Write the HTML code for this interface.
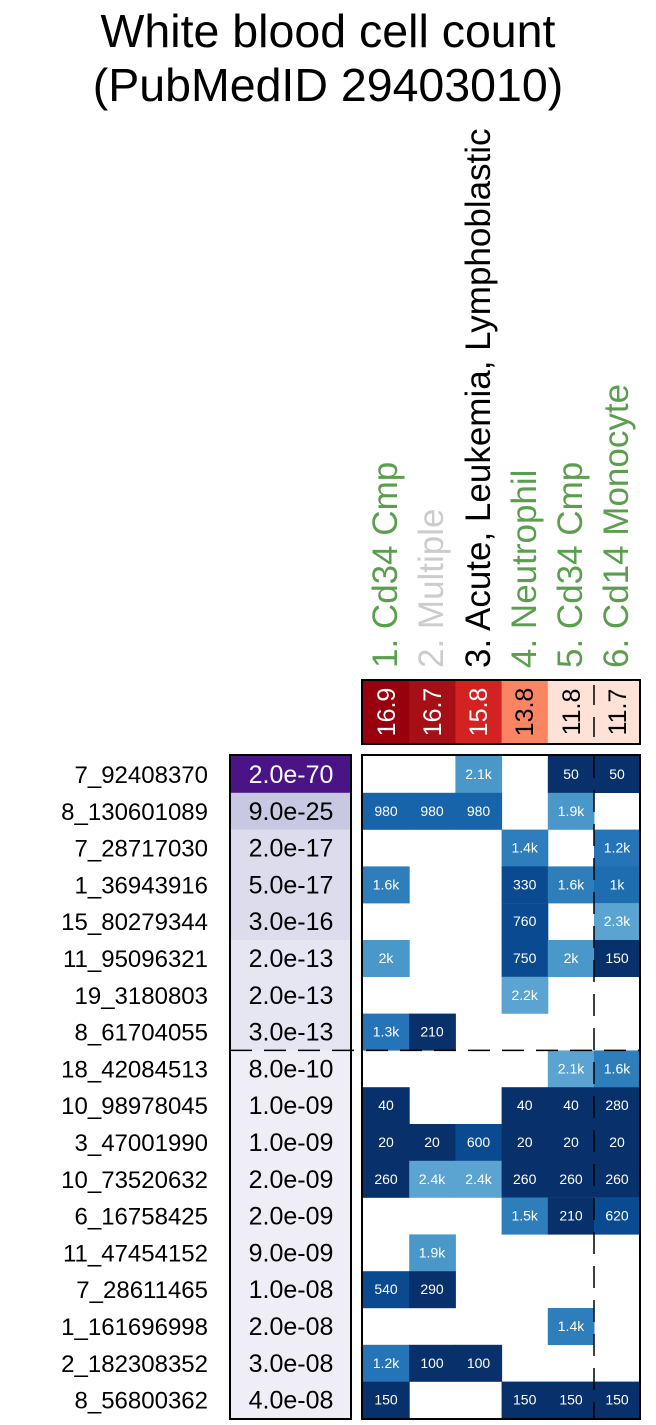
<!DOCTYPE html>
<html><head><meta charset="utf-8"><style>
html,body{margin:0;padding:0;background:#fff;}
svg{display:block;font-family:"Liberation Sans",Arial,sans-serif;}
.rl{font-size:24px;text-anchor:end;fill:#000}
.pv{font-size:25px;text-anchor:middle;fill:#000}
.cv{font-size:14px;text-anchor:middle;fill:#fff}
</style></head><body>
<svg width="656" height="1425" viewBox="0 0 656 1425" xmlns="http://www.w3.org/2000/svg">
<text x="328" y="47" font-size="46.5" text-anchor="middle">White blood cell count</text>
<text x="328" y="101" font-size="46.5" text-anchor="middle">(PubMedID 29403010)</text>

<g font-size="35">
<text transform="translate(397,668) rotate(-90)" fill="#5a9e4e">1. Cd34 Cmp</text>
<text transform="translate(443,668) rotate(-90)" fill="#cccccc">2. Multiple</text>
<text transform="translate(490,668) rotate(-90)" fill="#000">3. Acute, Leukemia, Lymphoblastic</text>
<text transform="translate(536,668) rotate(-90)" fill="#5a9e4e">4. Neutrophil</text>
<text transform="translate(582,668) rotate(-90)" fill="#5a9e4e">5. Cd34 Cmp</text>
<text transform="translate(628,668) rotate(-90)" fill="#5a9e4e">6. Cd14 Monocyte</text>
</g>

<rect x="363" y="681" width="46.7" height="63" fill="#99000d"/>
<rect x="409.2" y="681" width="46.7" height="63" fill="#a50f15"/>
<rect x="455.4" y="681" width="46.7" height="63" fill="#d42222"/>
<rect x="501.6" y="681" width="46.7" height="63" fill="#fb8462"/>
<rect x="547.8" y="681" width="46.7" height="63" fill="#fee2d7"/>
<rect x="594" y="681" width="46.2" height="63" fill="#fee2d7"/>
<g font-size="25" text-anchor="middle">
<text transform="translate(395,712) rotate(-90)" fill="#fff">16.9</text>
<text transform="translate(441,712) rotate(-90)" fill="#fff">16.7</text>
<text transform="translate(487,712) rotate(-90)" fill="#fff">15.8</text>
<text transform="translate(533,712) rotate(-90)" fill="#000">13.8</text>
<text transform="translate(580,712) rotate(-90)" fill="#000">11.8</text>
<text transform="translate(626,712) rotate(-90)" fill="#000">11.7</text>
</g>
<line x1="594" y1="681" x2="594" y2="744" stroke="#000" stroke-width="1.5" stroke-dasharray="20,12" stroke-dashoffset="-4"/>
<rect x="362" y="680" width="278" height="64" fill="none" stroke="#000" stroke-width="2"/>

<g>
<rect x="230" y="756" width="121" height="37" fill="#4a1486"/>
<rect x="230" y="792.8" width="121" height="37" fill="#c8c8e2"/>
<rect x="230" y="829.6" width="121" height="110.4" fill="#dddcec"/>
<rect x="230" y="940" width="121" height="110.4" fill="#e6e5f2"/>
<rect x="230" y="1050.4" width="121" height="368" fill="#efedf6"/>
</g>

<g transform="translate(0,756)"><text class="rl" x="208" y="27">7_92408370</text><text class="pv" x="291" y="27" style="fill:#fff">2.0e-70</text>
<rect x="455.4" y="0" width="46.7" height="37" fill="#4a98c9"/><text class="cv" x="478.5" y="23">2.1k</text>
<rect x="547.8" y="0" width="46.7" height="37" fill="#08306b"/><text class="cv" x="571" y="23">50</text>
<rect x="594" y="0" width="46.2" height="37" fill="#08306b"/><text class="cv" x="617" y="23">50</text></g>

<g transform="translate(0,792.8)"><text class="rl" x="208" y="27">8_130601089</text><text class="pv" x="291" y="27">9.0e-25</text>
<rect x="363" y="0" width="46.7" height="37" fill="#1764ab"/><text class="cv" x="386" y="23">980</text>
<rect x="409.2" y="0" width="46.7" height="37" fill="#1764ab"/><text class="cv" x="432" y="23">980</text>
<rect x="455.4" y="0" width="46.7" height="37" fill="#1764ab"/><text class="cv" x="478.5" y="23">980</text>
<rect x="547.8" y="0" width="46.7" height="37" fill="#4a98c9"/><text class="cv" x="571" y="23">1.9k</text></g>

<g transform="translate(0,829.6)"><text class="rl" x="208" y="27">7_28717030</text><text class="pv" x="291" y="27">2.0e-17</text>
<rect x="501.6" y="0" width="46.7" height="37" fill="#2e7ebc"/><text class="cv" x="524.7" y="23">1.4k</text>
<rect x="594" y="0" width="46.2" height="37" fill="#2474b7"/><text class="cv" x="617" y="23">1.2k</text></g>

<g transform="translate(0,866.4)"><text class="rl" x="208" y="27">1_36943916</text><text class="pv" x="291" y="27">5.0e-17</text>
<rect x="363" y="0" width="46.7" height="37" fill="#2e7ebc"/><text class="cv" x="386" y="23">1.6k</text>
<rect x="501.6" y="0" width="46.7" height="37" fill="#0a4a90"/><text class="cv" x="524.7" y="23">330</text>
<rect x="547.8" y="0" width="46.7" height="37" fill="#2e7ebc"/><text class="cv" x="571" y="23">1.6k</text>
<rect x="594" y="0" width="46.2" height="37" fill="#1f6db1"/><text class="cv" x="617" y="23">1k</text></g>

<g transform="translate(0,903.2)"><text class="rl" x="208" y="27">15_80279344</text><text class="pv" x="291" y="27">3.0e-16</text>
<rect x="501.6" y="0" width="46.7" height="37" fill="#0a4a90"/><text class="cv" x="524.7" y="23">760</text>
<rect x="594" y="0" width="46.2" height="37" fill="#5ba3d0"/><text class="cv" x="617" y="23">2.3k</text></g>

<g transform="translate(0,940)"><text class="rl" x="208" y="27">11_95096321</text><text class="pv" x="291" y="27">2.0e-13</text>
<rect x="363" y="0" width="46.7" height="37" fill="#4a98c9"/><text class="cv" x="386" y="23">2k</text>
<rect x="501.6" y="0" width="46.7" height="37" fill="#0a4a90"/><text class="cv" x="524.7" y="23">750</text>
<rect x="547.8" y="0" width="46.7" height="37" fill="#4a98c9"/><text class="cv" x="571" y="23">2k</text>
<rect x="594" y="0" width="46.2" height="37" fill="#08306b"/><text class="cv" x="617" y="23">150</text></g>

<g transform="translate(0,976.8)"><text class="rl" x="208" y="27">19_3180803</text><text class="pv" x="291" y="27">2.0e-13</text>
<rect x="501.6" y="0" width="46.7" height="37" fill="#5ba3d0"/><text class="cv" x="524.7" y="23">2.2k</text></g>

<g transform="translate(0,1013.6)"><text class="rl" x="208" y="27">8_61704055</text><text class="pv" x="291" y="27">3.0e-13</text>
<rect x="363" y="0" width="46.7" height="37" fill="#2474b7"/><text class="cv" x="386" y="23">1.3k</text>
<rect x="409.2" y="0" width="46.7" height="37" fill="#08306b"/><text class="cv" x="432" y="23">210</text></g>

<g transform="translate(0,1050.4)"><text class="rl" x="208" y="27">18_42084513</text><text class="pv" x="291" y="27">8.0e-10</text>
<rect x="547.8" y="0" width="46.7" height="37" fill="#5ba3d0"/><text class="cv" x="571" y="23">2.1k</text>
<rect x="594" y="0" width="46.2" height="37" fill="#2e7ebc"/><text class="cv" x="617" y="23">1.6k</text></g>

<g transform="translate(0,1087.2)"><text class="rl" x="208" y="27">10_98978045</text><text class="pv" x="291" y="27">1.0e-09</text>
<rect x="363" y="0" width="46.7" height="37" fill="#08306b"/><text class="cv" x="386" y="23">40</text>
<rect x="501.6" y="0" width="46.7" height="37" fill="#08306b"/><text class="cv" x="524.7" y="23">40</text>
<rect x="547.8" y="0" width="46.7" height="37" fill="#08306b"/><text class="cv" x="571" y="23">40</text>
<rect x="594" y="0" width="46.2" height="37" fill="#08306b"/><text class="cv" x="617" y="23">280</text></g>

<g transform="translate(0,1124)"><text class="rl" x="208" y="27">3_47001990</text><text class="pv" x="291" y="27">1.0e-09</text>
<rect x="363" y="0" width="46.7" height="37" fill="#08306b"/><text class="cv" x="386" y="23">20</text>
<rect x="409.2" y="0" width="46.7" height="37" fill="#08306b"/><text class="cv" x="432" y="23">20</text>
<rect x="455.4" y="0" width="46.7" height="37" fill="#0a4a90"/><text class="cv" x="478.5" y="23">600</text>
<rect x="501.6" y="0" width="46.7" height="37" fill="#08306b"/><text class="cv" x="524.7" y="23">20</text>
<rect x="547.8" y="0" width="46.7" height="37" fill="#08306b"/><text class="cv" x="571" y="23">20</text>
<rect x="594" y="0" width="46.2" height="37" fill="#08306b"/><text class="cv" x="617" y="23">20</text></g>

<g transform="translate(0,1160.8)"><text class="rl" x="208" y="27">10_73520632</text><text class="pv" x="291" y="27">2.0e-09</text>
<rect x="363" y="0" width="46.7" height="37" fill="#08306b"/><text class="cv" x="386" y="23">260</text>
<rect x="409.2" y="0" width="46.7" height="37" fill="#5ba3d0"/><text class="cv" x="432" y="23">2.4k</text>
<rect x="455.4" y="0" width="46.7" height="37" fill="#5ba3d0"/><text class="cv" x="478.5" y="23">2.4k</text>
<rect x="501.6" y="0" width="46.7" height="37" fill="#08306b"/><text class="cv" x="524.7" y="23">260</text>
<rect x="547.8" y="0" width="46.7" height="37" fill="#08306b"/><text class="cv" x="571" y="23">260</text>
<rect x="594" y="0" width="46.2" height="37" fill="#08306b"/><text class="cv" x="617" y="23">260</text></g>

<g transform="translate(0,1197.6)"><text class="rl" x="208" y="27">6_16758425</text><text class="pv" x="291" y="27">2.0e-09</text>
<rect x="501.6" y="0" width="46.7" height="37" fill="#2e7ebc"/><text class="cv" x="524.7" y="23">1.5k</text>
<rect x="547.8" y="0" width="46.7" height="37" fill="#08306b"/><text class="cv" x="571" y="23">210</text>
<rect x="594" y="0" width="46.2" height="37" fill="#0a4a90"/><text class="cv" x="617" y="23">620</text></g>

<g transform="translate(0,1234.4)"><text class="rl" x="208" y="27">11_47454152</text><text class="pv" x="291" y="27">9.0e-09</text>
<rect x="409.2" y="0" width="46.7" height="37" fill="#4a98c9"/><text class="cv" x="432" y="23">1.9k</text></g>

<g transform="translate(0,1271.2)"><text class="rl" x="208" y="27">7_28611465</text><text class="pv" x="291" y="27">1.0e-08</text>
<rect x="363" y="0" width="46.7" height="37" fill="#0a4a90"/><text class="cv" x="386" y="23">540</text>
<rect x="409.2" y="0" width="46.7" height="37" fill="#08306b"/><text class="cv" x="432" y="23">290</text></g>

<g transform="translate(0,1308)"><text class="rl" x="208" y="27">1_161696998</text><text class="pv" x="291" y="27">2.0e-08</text>
<rect x="547.8" y="0" width="46.7" height="37" fill="#2e7ebc"/><text class="cv" x="571" y="23">1.4k</text></g>

<g transform="translate(0,1344.8)"><text class="rl" x="208" y="27">2_182308352</text><text class="pv" x="291" y="27">3.0e-08</text>
<rect x="363" y="0" width="46.7" height="37" fill="#2474b7"/><text class="cv" x="386" y="23">1.2k</text>
<rect x="409.2" y="0" width="46.7" height="37" fill="#08306b"/><text class="cv" x="432" y="23">100</text>
<rect x="455.4" y="0" width="46.7" height="37" fill="#08306b"/><text class="cv" x="478.5" y="23">100</text></g>

<g transform="translate(0,1381.6)"><text class="rl" x="208" y="27">8_56800362</text><text class="pv" x="291" y="27">4.0e-08</text>
<rect x="363" y="0" width="46.7" height="37" fill="#08306b"/><text class="cv" x="386" y="23">150</text>
<rect x="501.6" y="0" width="46.7" height="37" fill="#08306b"/><text class="cv" x="524.7" y="23">150</text>
<rect x="547.8" y="0" width="46.7" height="37" fill="#08306b"/><text class="cv" x="571" y="23">150</text>
<rect x="594" y="0" width="46.2" height="37" fill="#08306b"/><text class="cv" x="617" y="23">150</text></g>

<line x1="594" y1="756" x2="594" y2="1418" stroke="#000" stroke-width="1.5" stroke-dasharray="22,12"/>
<line x1="230" y1="1050.4" x2="640" y2="1050.4" stroke="#000" stroke-width="1.5" stroke-dasharray="22,12"/>

<rect x="230" y="755" width="121" height="664" fill="none" stroke="#000" stroke-width="2"/>
<rect x="362" y="755" width="278" height="664" fill="none" stroke="#000" stroke-width="2"/>
</svg>
</body></html>
